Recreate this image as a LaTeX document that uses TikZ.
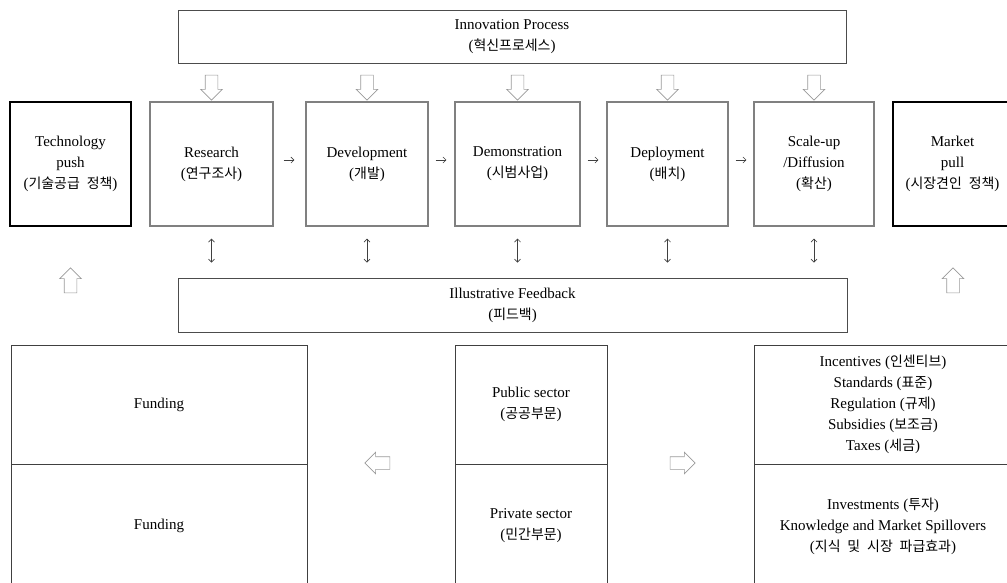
\documentclass[tikz,border=0pt]{standalone}
\usepackage{fontspec}
\setmainfont{Liberation Serif}
\newfontfamily\kr[Scale=0.93,WordSpace=2.2]{Noto Sans CJK KR}
\usetikzlibrary{shapes.arrows,arrows.meta}

\begin{document}
\begin{tikzpicture}[x=1pt,y=-1pt,>={Straight Barb[length=3pt,width=6pt]},
  box/.style={draw=gray!60!black,line width=0.9pt,align=center,inner sep=2pt,font=\fontsize{15}{21}\selectfont},
  stage/.style={box,draw=gray,line width=1.3pt,minimum height=124pt},
  push/.style={box,draw=black,line width=1.6pt,minimum height=124pt},
  cell/.style={box,draw=black!75,line width=0.7pt},
  hollow/.style={single arrow,draw=gray!80,line width=0.6pt,inner xsep=0pt,inner ysep=6pt,single arrow head extend=4.5pt,minimum height=25pt},
  flow/.style={->,line width=0.6pt,black!75}]
  \useasboundingbox (0,0) rectangle (1007,582);

  % process and feedback bands
  \node[box,minimum width=668pt,minimum height=53pt] (innov) at (512,36.5) {Innovation Process\\({\kr 혁신프로세스})};
  \node[box,minimum width=669pt,minimum height=54pt] (feedback) at (512.5,305) {Illustrative Feedback\\({\kr 피드백})};

  % stages
  \node[push,minimum width=121pt] (tech) at (70.5,164) {Technology\\push\\({\kr 기술공급 정책})};
  \node[stage,minimum width=123pt] (research) at (211.5,164) {Research\\({\kr 연구조사})};
  \node[stage,minimum width=122pt] (develop) at (367,164) {Development\\({\kr 개발})};
  \node[stage,minimum width=125pt] (demo) at (517.5,164) {Demonstration\\({\kr 시범사업})};
  \node[stage,minimum width=121pt] (deploy) at (667.5,164) {Deployment\\({\kr 배치})};
  \node[stage,minimum width=120pt] (scaleup) at (814,164) {Scale-up\\/Diffusion\\({\kr 확산})};
  \node[push,minimum width=119pt] (market) at (952.5,164) {Market\\pull\\({\kr 시장견인 정책})};

  % funding and sectors
  \node[cell,minimum width=296pt,minimum height=119pt] (fundA) at (159,404.5) {Funding};
  \node[cell,minimum width=296pt,minimum height=124pt] (fundB) at (159,526) {Funding};
  \node[cell,minimum width=152pt,minimum height=119pt] (public) at (531,404.5) {Public sector\\({\kr 공공부문})};
  \node[cell,minimum width=152pt,minimum height=124pt] (private) at (531,526) {Private sector\\({\kr 민간부문})};
  \node[cell,minimum width=258pt,minimum height=119pt] (instr) at (883,404.5) {Incentives ({\kr 인센티브})\\Standards ({\kr 표준})\\Regulation ({\kr 규제})\\Subsidies ({\kr 보조금})\\Taxes ({\kr 세금})};
  \node[cell,minimum width=258pt,minimum height=124pt] (invest) at (883,526) {Investments ({\kr 투자})\\Knowledge and Market Spillovers\\({\kr 지식 및 시장 파급효과})};

  % block arrows
  \node[hollow,rotate=-90] (dn1) at (211.5,84.5) {};
  \node[hollow,rotate=-90] (dn2) at (367,84.5) {};
  \node[hollow,rotate=-90] (dn3) at (517.5,84.5) {};
  \node[hollow,rotate=-90] (dn4) at (667.5,84.5) {};
  \node[hollow,rotate=-90] (dn5) at (814,84.5) {};
  \node[hollow,rotate=90] (up1) at (70.5,283.5) {};
  \node[hollow,rotate=90] (up2) at (953,283.5) {};
  \node[hollow,rotate=180] (toleft) at (380.5,463) {};
  \node[hollow] (toright) at (679.5,463) {};

  % stage sequence
  \draw[flow,shorten <=10pt,shorten >=11pt] ([yshift=4pt]research.east) -- ([yshift=4pt]develop.west);
  \draw[flow,shorten <=7pt,shorten >=8pt] ([yshift=4pt]develop.east) -- ([yshift=4pt]demo.west);
  \draw[flow,shorten <=7pt,shorten >=8pt] ([yshift=4pt]demo.east) -- ([yshift=4pt]deploy.west);
  \draw[flow,shorten <=7pt,shorten >=7pt] ([yshift=4pt]deploy.east) -- ([yshift=4pt]scaleup.west);

  % feedback links
  \draw[flow,<->,shorten <=12pt,shorten >=15pt] (research.south) -- (research.south |- feedback.north);
  \draw[flow,<->,shorten <=12pt,shorten >=15pt] (develop.south) -- (develop.south |- feedback.north);
  \draw[flow,<->,shorten <=12pt,shorten >=15pt] (demo.south) -- (demo.south |- feedback.north);
  \draw[flow,<->,shorten <=12pt,shorten >=15pt] (deploy.south) -- (deploy.south |- feedback.north);
  \draw[flow,<->,shorten <=12pt,shorten >=15pt] (scaleup.south) -- (scaleup.south |- feedback.north);
\end{tikzpicture}
\end{document}
